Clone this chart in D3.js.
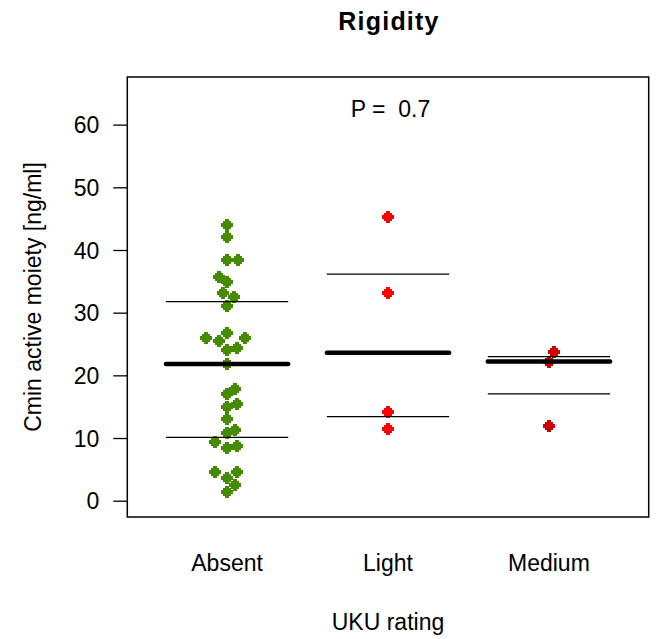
<!DOCTYPE html>
<html>
<head>
<meta charset="utf-8">
<script src="https://cdn.jsdelivr.net/npm/d3@7"></script>
<style>
	body { margin: 0; background: #fff; }
	text { font-family: "Liberation Sans", Arial, sans-serif; fill: #000; }
</style>
</head>
<body>
<svg id="chart" width="656" height="639"></svg>
<script>
// groups on the x axis
const groups = ['Absent', 'Light', 'Medium'];
const groupColors = ['#458B00', '#FF0000', '#CD0000'];

// Cmin values per group, with the beeswarm offset of each point (x units)
const absentValues = [44.0, 42.1, 38.4, 38.4, 35.7, 34.9, 33.1, 32.5, 31.0, 26.7,
	25.9, 25.5, 25.9, 24.0, 24.3, 21.8, 17.9, 17.1, 15.0, 15.4,
	13.0, 11.3, 10.8, 9.4, 8.4, 8.8, 4.5, 4.5, 3.6, 2.5, 1.4];
const absentOffsets = [0, 0, 0, 0.068, -0.052, 0, -0.025, 0.044, 0, 0,
	-0.13, -0.052, 0.11, 0, 0.064, 0, 0.052, 0, 0, 0.064,
	0, 0.052, 0, -0.073, 0, 0.064, -0.073, 0.064, 0, 0.052, 0];
const lightValues = [45.3, 33.1, 14.1, 11.4];
const lightOffsets = [0, 0, 0, 0];
const mediumValues = [23.8, 22.2, 11.9];
const mediumOffsets = [0.034, 0, 0];

const yTicks = [0, 10, 20, 30, 40, 50, 60];
const pLabel = 'P =  0.7';

const seriesValues = [absentValues, lightValues, mediumValues];
const seriesOffsets = [absentOffsets, lightOffsets, mediumOffsets];

const svg = d3.select('#chart');
const box = {left: 127.3, right: 648.7, top: 77, bottom: 517};

const x = d3.scaleLinear().domain([0.38, 3.62]).range([box.left, box.right]);
const y = d3.scaleLinear().domain([-2.6, 67.6]).range([box.bottom, box.top]);

// title
svg.append('text')
	.attr('x', (box.left + box.right) / 2 + 1)
	.attr('y', 30)
	.attr('text-anchor', 'middle')
	.style('font-size', '25px')
	.style('font-weight', 'bold')
	.style('letter-spacing', '1.2px')
	.text('Rigidity');

// y axis
const yAxis = d3.axisLeft(y).tickValues(yTicks).tickSize(14).tickPadding(14);
const yG = svg.append('g')
	.attr('transform', 'translate(' + box.left + ',0)')
	.call(yAxis);
yG.select('.domain').remove();
yG.selectAll('.tick line').attr('stroke', '#000').attr('stroke-width', 1.3);
yG.selectAll('.tick text')
	.style('font-size', '23px')
	.style('font-family', '"Liberation Sans", Arial, sans-serif')
	.attr('dy', '0.36em');

// x labels
svg.append('g')
	.selectAll('text')
	.data(groups)
	.enter().append('text')
		.attr('x', function(d, i) { return x(i + 1); })
		.attr('y', 571)
		.attr('text-anchor', 'middle')
		.style('font-size', '23px')
		.text(function(d) { return d; });

// axis titles
svg.append('text')
	.attr('x', (box.left + box.right) / 2)
	.attr('y', 630)
	.attr('text-anchor', 'middle')
	.style('font-size', '23px')
	.text('UKU rating');

svg.append('text')
	.attr('transform', 'translate(41,' + ((box.top + box.bottom) / 2) + ') rotate(-90)')
	.attr('text-anchor', 'middle')
	.style('font-size', '23px')
	.text('Cmin active moiety [ng/ml]');

// p-value
svg.append('text')
	.attr('x', 390.5)
	.attr('y', 117)
	.attr('text-anchor', 'middle')
	.attr('xml:space', 'preserve')
	.style('white-space', 'pre')
	.style('font-size', '23px')
	.text(pLabel);

// points
const pointPath = 'M-2,-6H2V-4H4V-2H6V2H4V4H2V6H-2V4H-4V2H-6V-2H-4V-4H-2Z';
const points = [];
seriesValues.forEach(function(vals, gi) {
	vals.forEach(function(v, j) {
		points.push({group: gi, value: v, offset: seriesOffsets[gi][j]});
	});
});

svg.append('g')
	.attr('class', 'points')
	.selectAll('path')
	.data(points)
	.enter().append('path')
		.attr('d', pointPath)
		.attr('transform', function(d) {
			return 'translate(' + Math.round(x(d.group + 1 + d.offset)) + ',' + Math.round(y(d.value)) + ')';
		})
		.attr('fill', function(d) { return groupColors[d.group]; })
		.attr('shape-rendering', 'crispEdges');

// median and quartile lines
const halfWidth = 0.38;
const stats = seriesValues.map(function(vals, gi) {
	const s = vals.slice().sort(d3.ascending);
	return {
		group: gi,
		q1: d3.quantile(s, 0.25),
		med: d3.quantile(s, 0.5),
		q3: d3.quantile(s, 0.75)
	};
});

const lines = svg.append('g').attr('class', 'lines');
stats.forEach(function(st) {
	const cx = st.group + 1;
	[st.q1, st.q3].forEach(function(q) {
		lines.append('line')
			.attr('x1', x(cx - halfWidth))
			.attr('x2', x(cx + halfWidth))
			.attr('y1', y(q))
			.attr('y2', y(q))
			.attr('stroke', '#000')
			.attr('stroke-width', 1.3);
	});
	lines.append('line')
		.attr('x1', x(cx - halfWidth))
		.attr('x2', x(cx + halfWidth))
		.attr('y1', y(st.med))
		.attr('y2', y(st.med))
		.attr('stroke', '#000')
		.attr('stroke-width', 4.5)
		.attr('stroke-linecap', 'round');
});

// plot box
svg.append('rect')
	.attr('x', box.left)
	.attr('y', box.top)
	.attr('width', box.right - box.left)
	.attr('height', box.bottom - box.top)
	.attr('fill', 'none')
	.attr('stroke', '#000')
	.attr('stroke-width', 1.5);
</script>
</body>
</html>
